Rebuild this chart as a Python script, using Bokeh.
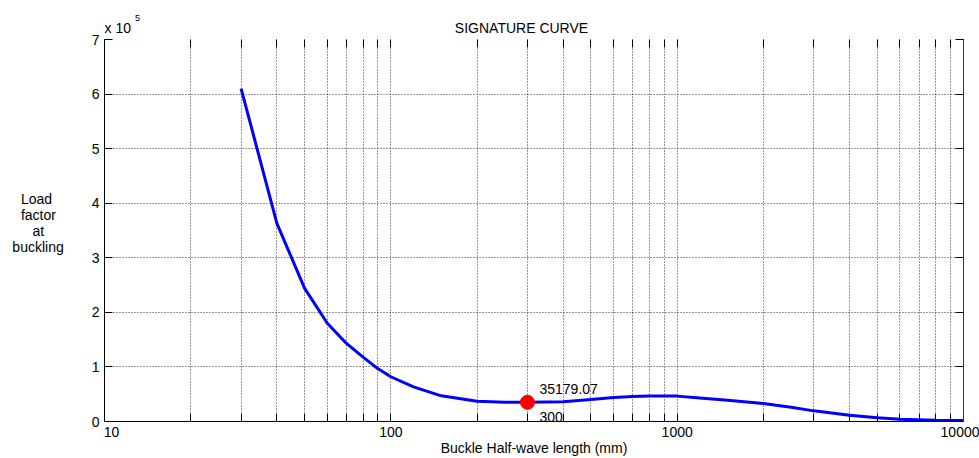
from bokeh.plotting import figure
from bokeh.models import FixedTicker, LinearAxis, LogAxis, Range1d, Label
from bokeh.embed import file_html
from bokeh.resources import INLINE

# ---- data ----
half_wave = [30, 40, 50, 60, 70, 80, 90, 100, 120, 150, 200, 250, 300, 400,
             500, 600, 700, 800, 1000, 1200, 1500, 2000, 2500, 3000, 4000,
             5000, 6000, 8000, 10000]
load_factor = [610000, 363000, 244000, 180000, 143000, 118000, 97000, 82000,
               63500, 47000, 37000, 35400, 35179.07, 36000, 40500, 44000,
               46000, 46500, 46500, 43000, 39000, 33000, 26000, 19500, 11500,
               6800, 4000, 2500, 2000]
min_length = 300
min_load = 35179.07

x_major_ticks = [10, 100, 1000, 10000]
x_tick_labels = ["10", "100", "1000", "10000"]
x_minor_ticks = [20, 30, 40, 50, 60, 70, 80, 90,
                 200, 300, 400, 500, 600, 700, 800, 900,
                 2000, 3000, 4000, 5000, 6000, 7000, 8000, 9000]
y_ticks = [0, 100000, 200000, 300000, 400000, 500000, 600000, 700000]
y_tick_labels = ["0", "1", "2", "3", "4", "5", "6", "7"]

title_text = "SIGNATURE CURVE"
x_label_text = "Buckle Half-wave length (mm)"
y_label_lines = ["Load", "factor", "at", "buckling"]
exp_base_text = "x 10"
exp_power_text = "5"

FONT = "Liberation Sans"
FS = "14px"
NB = "\u00a0"

p = figure(width=979, height=458, x_axis_type="log",
           x_range=Range1d(10, 10000), y_range=Range1d(0, 700000),
           min_border_left=104, min_border_right=16, min_border_top=39,
           min_border_bottom=37, output_backend="svg", toolbar_location=None)
p.outline_line_color = None
p.background_fill_color = "white"
p.border_fill_color = "white"

xt = FixedTicker(ticks=x_major_ticks, minor_ticks=x_minor_ticks)
yt = FixedTicker(ticks=y_ticks, minor_ticks=[])

# bottom axis: every tick mark drawn as a minor tick, labels on the majors
# (the first label sits just right of the axis corner, as in the original)
first_label_pos = 10.58
bottom_label_pos = [first_label_pos] + x_major_ticks[1:]
bt = FixedTicker(ticks=bottom_label_pos,
                 minor_ticks=sorted(x_major_ticks + x_minor_ticks))
bx = p.xaxis[0]
bx.ticker = bt
bx.major_tick_line_color = None
bx.major_tick_in = 0
bx.major_tick_out = 0
bx.minor_tick_in = 8
bx.minor_tick_out = 0
bx.axis_line_color = "black"
bx.minor_tick_line_color = "black"
bx.major_label_text_font = FONT
bx.major_label_text_font_size = FS
bx.major_label_text_color = "black"
bx.major_label_standoff = 5
bx.major_label_overrides = {t: s for t, s in zip(bottom_label_pos, x_tick_labels)}
bx.axis_label = x_label_text
bx.axis_label_text_font = FONT
bx.axis_label_text_font_size = FS
bx.axis_label_text_font_style = "normal"
bx.axis_label_text_color = "black"
bx.axis_label_standoff = 0

# left axis; horizontal multi-line label, lines centred with padding,
# trailing blank line lifts the block slightly as in the original
pads = {"Load": 3, "factor": 2, "at": 5, "buckling": 0}
ly = p.yaxis[0]
ly.ticker = yt
ly.major_tick_in = 8
ly.major_tick_out = 0
ly.minor_tick_line_color = None
ly.axis_line_color = "black"
ly.major_tick_line_color = "black"
ly.major_label_text_font = FONT
ly.major_label_text_font_size = FS
ly.major_label_text_color = "black"
ly.major_label_standoff = 5
ly.major_label_overrides = {t: s for t, s in zip(y_ticks, y_tick_labels)}
ly.axis_label = "\n".join([s + NB * pads[s] for s in y_label_lines] + [NB])
ly.axis_label_orientation = "horizontal"
ly.axis_label_text_font = FONT
ly.axis_label_text_font_size = FS
ly.axis_label_text_font_style = "normal"
ly.axis_label_text_color = "black"
ly.axis_label_text_line_height = 1.0
ly.axis_label_standoff = 25

# right axis (ticks only)
ry = LinearAxis(ticker=yt, major_tick_in=8, major_tick_out=0,
                minor_tick_line_color=None, axis_line_color="#333333",
                major_tick_line_color="black", major_label_text_color=None,
                major_label_text_font_size="2px", major_label_standoff=0)
p.add_layout(ry, "right")

# top axis (ticks only)
tx = LogAxis(ticker=xt, major_tick_in=8, major_tick_out=0, minor_tick_in=8,
             minor_tick_out=0, axis_line_color=None,
             major_tick_line_color="black", minor_tick_line_color="black",
             major_label_text_color=None, major_label_text_font_size="2px",
             major_label_standoff=0)
p.add_layout(tx, "above")

# top text row: exponent base and title
exp_pos = 11.13
title_pos = 286
top_text = LogAxis(ticker=FixedTicker(ticks=[exp_pos, title_pos], minor_ticks=[]),
                   major_label_overrides={exp_pos: exp_base_text, title_pos: title_text},
                   major_tick_line_color=None, minor_tick_line_color=None,
                   major_tick_in=0, major_tick_out=0, axis_line_color=None,
                   major_label_text_font=FONT, major_label_text_font_size=FS,
                   major_label_text_color="black", major_label_standoff=4)
p.add_layout(top_text, "above")

# superscript row
sup_pos = 13.04
top_sup = LogAxis(ticker=FixedTicker(ticks=[sup_pos], minor_ticks=[]),
                  major_label_overrides={sup_pos: exp_power_text},
                  major_tick_line_color=None, minor_tick_line_color=None,
                  major_tick_in=0, major_tick_out=0, axis_line_color=None,
                  major_label_text_font=FONT, major_label_text_font_size="9px",
                  major_label_text_color="black", major_label_standoff=-4)
p.add_layout(top_sup, "above")

# grids
p.xgrid.ticker = xt
p.xgrid.grid_line_color = "black"
p.xgrid.grid_line_dash = "1 2"
p.xgrid.grid_line_alpha = 0.8
p.xgrid.minor_grid_line_color = "black"
p.xgrid.minor_grid_line_dash = "1 2"
p.xgrid.minor_grid_line_alpha = 0.8
p.ygrid.grid_line_color = "black"
p.ygrid.grid_line_dash = "1 2"
p.ygrid.grid_line_alpha = 0.8

p.line(half_wave, load_factor, line_width=3, color="#0000ff")
p.scatter([min_length], [min_load], size=14, color="#ff0000")

p.add_layout(Label(x=min_length, y=min_load, x_offset=12, y_offset=13,
                   text=f"{min_load:.2f}", text_font=FONT, text_font_size=FS,
                   text_baseline="middle", text_color="black"))
p.add_layout(Label(x=min_length, y=min_load, x_offset=12, y_offset=-15,
                   text=f"{min_length}", text_font=FONT, text_font_size=FS,
                   text_baseline="middle", text_color="black"))

open("out.html", "w").write(file_html(p, INLINE))
